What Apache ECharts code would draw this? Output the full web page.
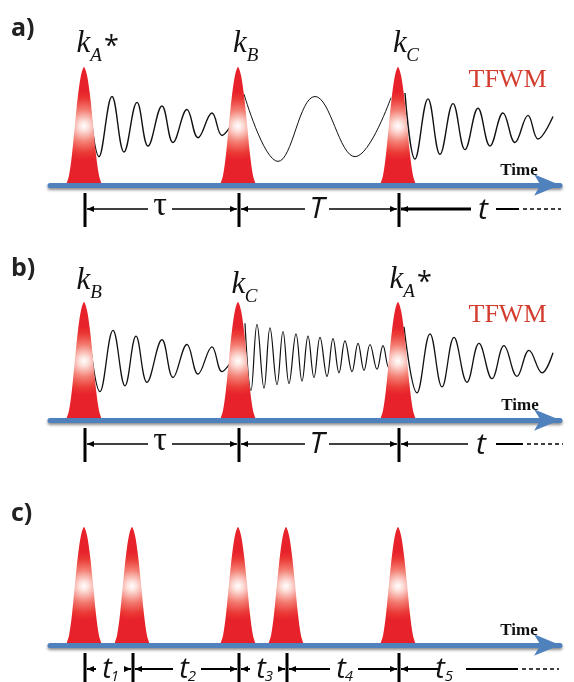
<!DOCTYPE html>
<html>
<head>
<meta charset="utf-8">
<script src="https://cdn.jsdelivr.net/npm/echarts@6/dist/echarts.min.js"></script>
<style>
  html, body { margin: 0; padding: 0; background: #fff; }
  #main { width: 574px; height: 682px; }
</style>
</head>
<body>
<div id="main"></div>
<script>
// time runs along x (0 = start of the blue arrow), y is in % of a pulse height
const pulseShapeX = [-18, -15, -12, -9, -6, -3, 0, 3, 6, 9, 12, 15, 18];
const pulseShapeY = [0, 8, 26, 52, 76, 93, 100, 93, 76, 52, 26, 8, 0];

const pulsesA = [34, 188, 348];
const pulsesB = [34, 188, 348];
const pulsesC = [34, 82, 188, 236, 348];

// panel a) signal between the pulses (peaks / troughs)
const waveA1 = [[38, 82], [49, 24], [62, 75], [74, 28], [87, 70], [98, 33], [112, 67], [123, 36], [137, 64], [148, 40], [162, 61], [172, 42], [180, 49]];
const waveA2 = [[194, 77], [228, 20], [265, 75], [305, 24], [341, 74]];
const waveA3 = [[355, 78], [365, 22], [378, 73], [390, 26], [403, 69], [415, 30], [428, 65], [440, 33], [453, 61], [465, 36], [478, 59], [488, 39], [503, 58]];

// panel b)
const waveB1 = [[38, 81], [50, 24], [63, 76], [75, 29], [86, 71], [97, 32], [112, 68], [123, 36], [137, 64], [148, 39], [162, 62], [172, 41], [180, 48]];
const waveB2 = [[195, 82], [201, 25], [207, 81], [214, 27], [220, 78], [227, 30], [233, 75], [239, 31], [246, 73], [252, 33], [258, 71], [264, 36], [270, 70], [277, 37], [283, 69], [289, 40], [295, 67], [302, 41], [308, 65], [314, 42], [320, 64], [327, 43], [333, 63], [339, 44], [343, 51]];
const waveB3 = [[354, 79], [367, 23], [380, 73], [392, 28], [404, 70], [417, 32], [429, 65], [442, 35], [454, 63], [467, 37], [479, 59], [492, 40], [503, 57]];

const spanLabelsA = ['τ', 'T'];
const spanLabelsB = ['τ', 'T'];
const spanLabelsC = ['1', '2', '3', '4'];

var chart = echarts.init(document.getElementById('main'));

var gridTops = [67, 302, 527];
var grids = [], xAxes = [], yAxes = [], series = [];

function pulseFill() {
    return new echarts.graphic.RadialGradient(0.5, 0.5, 1, [
        { offset: 0, color: '#ffffff' },
        { offset: 0.15, color: '#fcdcd6' },
        { offset: 0.45, color: '#f37d72' },
        { offset: 0.75, color: '#eb3a36' },
        { offset: 0.95, color: '#e8222a' }
    ]);
}

function addPulses(centers, g) {
    centers.forEach(function (c) {
        series.push({
            type: 'line',
            xAxisIndex: g,
            yAxisIndex: g,
            data: pulseShapeX.map(function (dx, i) { return [c + dx, pulseShapeY[i]]; }),
            smooth: 0.3,
            symbol: 'none',
            silent: true,
            lineStyle: { width: 0, opacity: 0 },
            areaStyle: { color: pulseFill(), opacity: 1 },
            z: 3
        });
    });
}

function addWave(data, g, w) {
    series.push({
        type: 'line',
        xAxisIndex: g,
        yAxisIndex: g,
        data: data,
        smooth: 0.4,
        symbol: 'none',
        silent: true,
        lineStyle: { color: '#111', width: w },
        z: 2
    });
}

for (var g = 0; g < 3; g++) {
    grids.push({ left: 50, right: 14, top: gridTops[g], height: 118 });
    xAxes.push({
        type: 'value', gridIndex: g, min: 0, max: 510, z: 10,
        axisLine: {
            show: true,
            symbol: ['none', 'arrow'],
            symbolSize: [16, 26],
            lineStyle: { color: '#4f81bd', width: 5, shadowColor: 'rgba(0,0,0,0.45)', shadowBlur: 3, shadowOffsetY: 2 }
        },
        axisTick: { show: false },
        axisLabel: { show: false },
        splitLine: { show: false }
    });
    yAxes.push({ type: 'value', gridIndex: g, min: 0, max: 100, show: false });
}

addWave(waveA1, 0, 1.4);
addWave(waveA2, 0, 1.0);
addWave(waveA3, 0, 1.4);
addWave(waveB1, 1, 1.3);
addWave(waveB2, 1, 1.2);
addWave(waveB3, 1, 1.3);
addPulses(pulsesA, 0);
addPulses(pulsesB, 1);
addPulses(pulsesC, 2);

chart.setOption({
    animation: false,
    backgroundColor: '#fff',
    grid: grids,
    xAxis: xAxes,
    yAxis: yAxes,
    series: series
});

// ---- annotations (labels, brackets under the time axis) ----
var els = [];
var serif = "'Liberation Serif', 'DejaVu Serif', serif";
var sans = "'Open Sans', 'Liberation Sans', sans-serif";

function txt(s, x, y, size, opt) {
    opt = opt || {};
    els.push({
        type: 'text', z: 100, silent: true,
        style: {
            text: s, x: x, y: y,
            fontSize: size,
            fontFamily: opt.family || serif,
            fontStyle: opt.style || 'normal',
            fontWeight: opt.weight || 'normal',
            fill: opt.color || '#111',
            align: opt.align || 'center',
            verticalAlign: 'middle'
        }
    });
}
function line(x1, y1, x2, y2, w, dash) {
    els.push({
        type: 'line', z: 100, silent: true,
        shape: { x1: x1, y1: y1, x2: x2, y2: y2 },
        style: { stroke: '#000', lineWidth: w, lineDash: dash || null }
    });
}
function head(x, y, dir) {
    els.push({
        type: 'polygon', z: 100, silent: true,
        shape: { points: [[x, y], [x + dir * 7, y - 3], [x + dir * 7, y + 3]] },
        style: { fill: '#000' }
    });
}
function kLabel(x, y, sub, star) {
    txt('k', x, y, 31, { style: 'italic' });
    txt(sub, x + 12.5, y + 12, 19, { style: 'italic' });
    if (star) txt('*', x + 28, y + 3, 27, { family: sans });
}

var px = function (g, v) { return chart.convertToPixel({ gridIndex: g }, [v, 0]); };

function brackets(g, centers, labels, lastLabel, o) {
    var base = px(g, 0)[1];
    var xs = centers.map(function (c) { return Math.round(px(g, c)[0]) + 1; });
    var ya = base + 24;
    xs.forEach(function (x) { line(x, base + 8, x, base + 42, 3); });
    for (var i = 0; i < xs.length - 1; i++) {
        var xl = xs[i], xr = xs[i + 1], mid = (xl + xr) / 2 - o.shift;
        line(xl + 2, ya, mid - o.gapL, ya, o.w);
        line(mid + o.gapR, ya, xr - 2, ya, o.w);
        head(xl + 2, ya, 1);
        head(xr - 2, ya, -1);
        if (o.sub) {
            txt('t', mid - 2, ya + 1, 29, { family: sans, style: 'italic' });
            txt(labels[i], mid + 6, ya + 8, 15, { family: sans, style: 'italic' });
        } else if (labels[i] === 'τ') {
            txt('τ', mid, ya - 3, 34, { family: serif });
        } else {
            txt(labels[i], mid, ya, 30, { family: sans, style: 'italic' });
        }
    }
    var xl = xs[xs.length - 1];
    line(xl + 2, ya, xl + o.lastA, ya, o.lastW);
    head(xl + 2, ya, 1);
    if (o.sub) {
        txt('t', xl + o.lastT - 4, ya + 1, 29, { family: sans, style: 'italic' });
        txt(lastLabel, xl + o.lastT + 5, ya + 8, 15, { family: sans, style: 'italic' });
    } else {
        txt('t', xl + o.lastT, ya + 1, 30, { family: sans, style: 'italic' });
    }
    line(xl + o.lastB, ya, xl + o.lastC, ya, 2);
    line(xl + o.lastC + 4, ya, xl + o.lastD, ya, 1.3, [4, 3]);
}

brackets(0, pulsesA, spanLabelsA, null, { shift: 2, gapL: 12, gapR: 12, w: 1.4, lastA: 72, lastW: 3, lastT: 84, lastB: 97, lastC: 120, lastD: 162 });
brackets(1, pulsesB, spanLabelsB, null, { shift: 2, gapL: 12, gapR: 12, w: 1.4, lastA: 69, lastW: 1.6, lastT: 82, lastB: 97, lastC: 124, lastD: 164 });
brackets(2, pulsesC, spanLabelsC, '5', { sub: true, shift: 0, gapL: 13, gapR: 15, w: 2, lastA: 39, lastW: 2, lastT: 45, lastB: 67, lastC: 119, lastD: 160 });

// panel letters
txt('a)', 11, 29, 25, { family: sans, weight: 'bold', align: 'left', color: '#222' });
txt('b)', 11, 269, 25, { family: sans, weight: 'bold', align: 'left', color: '#222' });
txt('c)', 11, 514, 25, { family: sans, weight: 'bold', align: 'left', color: '#222' });

// pulse names
kLabel(83.5, 44, 'A', true);
kLabel(240, 44, 'B', false);
kLabel(400, 44, 'C', false);
kLabel(83.5, 281, 'B', false);
kLabel(238.5, 285, 'C', false);
kLabel(396.5, 280, 'A', true);

txt('TFWM', 507.5, 80.5, 26, { color: '#d33d2f' });
txt('TFWM', 507.5, 315, 26, { color: '#d33d2f' });
txt('Time', 519, 171, 17, { weight: 'bold' });
txt('Time', 520, 406, 17, { weight: 'bold' });
txt('Time', 519, 631, 17, { weight: 'bold' });

chart.setOption({ graphic: { elements: els } });
</script>
</body>
</html>
